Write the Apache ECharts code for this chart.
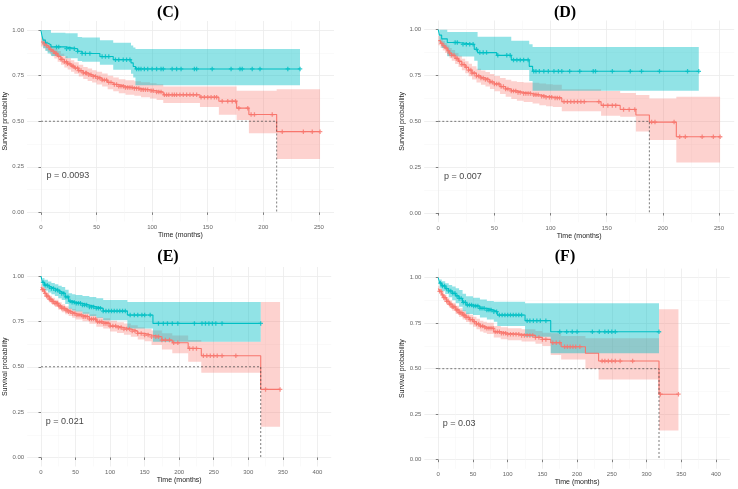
<!DOCTYPE html>
<html><head><meta charset="utf-8">
<script src="https://cdn.jsdelivr.net/npm/echarts@6/dist/echarts.min.js"></script>
<style>html,body{margin:0;padding:0;background:#fff}#c{width:738px;height:489px}</style>
</head><body><div id="c"></div>
<script>
// ---------- tick labels ----------
const yMajor = [0, 0.25, 0.5, 0.75, 1];
const yMinor = [0.125, 0.375, 0.625, 0.875];
const xMajorShort = [0, 50, 100, 150, 200, 250];
const xMinorShort = [25, 75, 125, 175, 225];
const xMajorLong = [0, 50, 100, 150, 200, 250, 300, 350, 400];
const xMinorLong = [25, 75, 125, 175, 225, 275, 325, 375];
const panelTitles = ['(C)', '(D)', '(E)', '(F)'];
const pValues = ['p = 0.0093', 'p = 0.007', 'p = 0.021', 'p = 0.03'];
const medianTimes = [212, 188, 318, 318];

// ---------- Panel C ----------
const cTealTime = [0, 1, 2, 4, 6, 9, 22, 33, 37, 53, 65, 81, 83, 85, 233];
const cTealSurv = [1.0, 0.965, 0.945, 0.93, 0.92, 0.908, 0.898, 0.884, 0.872, 0.855, 0.838, 0.82, 0.80, 0.787, 0.787];
const cTealHigh = [1.0, 1.0, 1.0, 1.0, 1.0, 0.985, 0.983, 0.962, 0.96, 0.945, 0.93, 0.915, 0.905, 0.897, 0.897];
const cTealLow  = [1.0, 0.925, 0.9, 0.885, 0.872, 0.858, 0.846, 0.83, 0.826, 0.81, 0.782, 0.76, 0.74, 0.698, 0.698];
const cTealCens = [14,16,23,26,30,33,37,40,44,55,58,61,67,70,74,77,80,86,88,90,93,96,100,104,108,110,118,122,126,138,140,154,171,179,181,190,197,222,233];
const cRedTime = [0,2,4,6,8,10,12,15,18,21,24,27,30,34,38,42,46,50,55,60,65,70,76,84,90,98,104,110,143,160,176,187,212,251];
const cRedSurv = [.935,.925,.915,.905,.893,.883,.872,.856,.84,.826,.815,.803,.792,.778,.765,.755,.746,.737,.726,.713,.702,.692,.685,.68,.673,.667,.66,.645,.632,.61,.572,.537,.443,.443];
const cRedHigh = [.96,.95,.94,.93,.92,.91,.9,.885,.87,.857,.846,.835,.824,.81,.798,.789,.78,.772,.762,.75,.74,.731,.725,.72,.714,.709,.703,.69,.69,.69,.668,.668,.675,.675];
const cRedLow  = [.91,.9,.89,.88,.866,.856,.844,.827,.81,.795,.784,.771,.76,.746,.732,.721,.712,.702,.69,.676,.664,.653,.645,.64,.632,.625,.617,.6,.578,.535,.507,.434,.293,.293];
const cRedCens = [3,5,7,9,11,13,14,16,18,19,21,23,24,26,28,29,31,33,34,36,38,40,41,43,45,47,49,51,53,55,57,59,61,63,66,68,70,72,74,76,78,80,82,84,86,88,90,92,94,96,99,101,104,106,108,111,113,115,118,120,122,125,128,131,134,137,140,144,147,150,153,156,158,163,168,172,175,178,186,189,192,208,217,236,244,251];

// ---------- Panel D ----------
const dTealTime = [0, 1, 3, 8, 18, 32, 35, 52, 65, 81, 84, 232];
const dTealSurv = [1.0, 0.97, 0.95, 0.93, 0.92, 0.893, 0.875, 0.86, 0.835, 0.80, 0.773, 0.773];
const dTealHigh = [1.0, 1.0, 1.0, 0.987, 0.987, 0.987, 0.962, 0.962, 0.94, 0.92, 0.905, 0.905];
const dTealLow  = [1.0, 0.93, 0.9, 0.855, 0.853, 0.83, 0.78, 0.78, 0.78, 0.72, 0.667, 0.667];
const dTealCens = [15,17,22,25,28,31,34,37,40,43,53,61,64,67,70,73,76,80,85,87,90,94,98,103,107,110,117,126,138,140,155,171,181,197,222,232];
const dRedTime = [0,2,4,6,8,10,12,15,18,21,24,27,30,34,38,42,46,50,55,60,65,70,76,84,90,96,102,110,145,162,176,188,212,251];
const dRedSurv = [.94,.925,.912,.9,.885,.872,.86,.843,.827,.81,.795,.78,.763,.748,.737,.728,.715,.704,.69,.677,.666,.658,.652,.645,.637,.632,.628,.607,.587,.565,.535,.496,.416,.416];
const dRedHigh = [.965,.95,.938,.927,.913,.9,.889,.873,.858,.842,.828,.814,.8,.787,.777,.769,.758,.748,.737,.727,.719,.714,.712,.71,.706,.703,.7,.675,.665,.655,.644,.625,.634,.634];
const dRedLow  = [.915,.9,.886,.873,.857,.844,.831,.813,.796,.778,.762,.746,.728,.712,.7,.69,.676,.664,.649,.634,.622,.613,.606,.598,.588,.582,.578,.555,.53,.525,.444,.398,.275,.275];
const dRedCens = [3,5,7,9,10,12,14,16,17,19,21,23,25,27,29,30,32,34,36,38,40,42,44,46,48,50,52,54,56,58,60,62,65,67,69,71,73,76,78,80,82,85,87,89,92,94,96,99,101,104,106,108,112,115,118,121,124,127,130,143,147,151,155,158,165,170,175,190,193,210,215,220,235,245,251];

// ---------- Panel E ----------
const eTealTime = [0, 2, 5, 10, 15, 20, 25, 30, 35, 40, 45, 50, 60, 70, 80, 90, 100, 125, 162, 318];
const eTealSurv = [1.0, .965, .95, .94, .932, .923, .913, .904, .885, .862, .855, .85, .84, .83, .822, .807, .807, .785, .739, .739];
const eTealHigh = [1.0, .99, .98, .97, .962, .955, .947, .94, .925, .905, .9, .895, .89, .885, .878, .868, .868, .857, .857, .857];
const eTealLow  = [1.0, .94, .92, .91, .9, .89, .878, .868, .846, .82, .81, .805, .792, .78, .77, .757, .757, .711, .638, .638];
const eTealCens = [3,6,9,12,15,18,21,24,27,30,33,36,39,42,45,48,51,54,57,60,63,66,70,73,76,80,83,86,90,94,98,102,106,110,114,118,122,129,135,140,146,150,158,170,177,183,190,198,222,233,238,243,248,253,262,318];
const eRedTime = [0,2,5,8,12,16,20,25,30,35,40,45,50,60,70,80,90,100,110,120,130,140,150,160,175,190,213,232,318,346];
const eRedSurv = [.94,.925,.905,.89,.873,.86,.85,.835,.822,.812,.803,.794,.785,.776,.763,.748,.739,.724,.716,.708,.697,.684,.675,.665,.647,.632,.601,.561,.375,.375];
const eRedHigh = [.955,.94,.922,.908,.892,.88,.87,.856,.844,.834,.826,.818,.809,.801,.789,.775,.767,.753,.746,.739,.729,.718,.71,.7,.685,.672,.647,.638,.857,.857];
const eRedLow  = [.925,.91,.888,.872,.854,.84,.83,.814,.8,.79,.78,.77,.761,.751,.737,.721,.711,.695,.686,.677,.665,.65,.64,.62,.595,.575,.528,.467,.169,.169];
const eRedCens = [2,4,6,8,10,12,14,16,18,20,22,24,26,28,30,32,34,36,38,40,43,46,49,52,55,58,61,64,67,70,73,76,79,82,85,88,91,94,97,100,104,108,112,116,120,124,128,132,136,140,145,150,155,160,166,170,175,180,186,192,198,215,220,225,235,240,245,250,255,262,282,325,346];

// ---------- Panel F ----------
const fTealTime = [0, 2, 5, 10, 15, 20, 25, 30, 35, 40, 50, 60, 70, 80, 85, 125, 162, 318];
const fTealSurv = [1.0, .97, .955, .94, .927, .914, .9, .886, .865, .85, .844, .832, .822, .813, .795, .764, .703, .703];
const fTealHigh = [1.0, .99, .98, .97, .96, .952, .942, .932, .912, .898, .89, .88, .872, .868, .868, .859, .859, .859];
const fTealLow  = [1.0, .94, .925, .91, .892, .876, .86, .84, .815, .8, .795, .782, .77, .758, .734, .676, .585, .585];
const fTealCens = [3,6,9,12,15,18,21,24,27,30,33,36,39,42,45,48,51,54,57,60,63,66,70,73,76,80,84,88,92,96,100,104,108,112,116,120,128,132,137,142,147,155,175,185,193,200,222,232,240,245,250,255,318];
const fRedTime = [0,2,5,8,12,16,20,25,30,35,40,45,50,55,60,65,70,80,90,100,120,140,150,162,177,212,231,318,346];
const fRedSurv = [.94,.925,.905,.89,.87,.855,.84,.823,.808,.795,.782,.77,.758,.746,.734,.728,.722,.703,.695,.689,.683,.672,.661,.643,.621,.585,.542,.36,.36];
const fRedHigh = [.955,.94,.922,.908,.89,.875,.862,.846,.832,.82,.808,.797,.786,.775,.764,.758,.753,.735,.728,.722,.717,.707,.697,.695,.68,.667,.667,.826,.826];
const fRedLow  = [.925,.91,.888,.872,.85,.835,.818,.8,.784,.77,.756,.743,.73,.717,.704,.698,.691,.671,.662,.656,.649,.637,.625,.575,.55,.5,.441,.16,.16];
const fRedCens = [2,4,6,8,10,12,14,16,18,20,22,24,26,28,30,32,34,36,38,40,43,46,49,52,55,58,61,64,67,70,73,76,79,82,85,88,91,94,97,100,104,108,112,116,120,124,128,132,136,140,145,150,155,165,170,175,182,186,190,194,198,204,236,240,245,250,255,262,280,320,346];

// ---------- layout (not data) ----------
const TEAL = '#00BFC4', RED = '#F8766D';
const layout = [
  {grid:{left:27, top:21, width:307, height:200.5}, xMin:-12.55, xMax:263.55, major:xMajorShort, minor:xMinorShort, title:[168,13], pX:5},
  {grid:{left:424.2, top:20.5, width:310, height:201.7}, xMin:-12.55, xMax:263.55, major:xMajorShort, minor:xMinorShort, title:[565,13], pX:5},
  {grid:{left:27.2, top:267, width:304, height:199.5}, xMin:-20, xMax:420, major:xMajorLong, minor:xMinorLong, title:[168,257], pX:7},
  {grid:{left:424.4, top:268.6, width:305.4, height:200.2}, xMin:-20, xMax:420, major:xMajorLong, minor:xMinorLong, title:[565,257], pX:6.5}
];
const groups = [
  {teal:[cTealTime,cTealSurv,cTealLow,cTealHigh,cTealCens], red:[cRedTime,cRedSurv,cRedLow,cRedHigh,cRedCens]},
  {teal:[dTealTime,dTealSurv,dTealLow,dTealHigh,dTealCens], red:[dRedTime,dRedSurv,dRedLow,dRedHigh,dRedCens]},
  {teal:[eTealTime,eTealSurv,eTealLow,eTealHigh,eTealCens], red:[eRedTime,eRedSurv,eRedLow,eRedHigh,eRedCens]},
  {teal:[fTealTime,fTealSurv,fTealLow,fTealHigh,fTealCens], red:[fRedTime,fRedSurv,fRedLow,fRedHigh,fRedCens]}
];

const PLUS = 'path://M1.8,0H3.2V1.8H5V3.2H3.2V5H1.8V3.2H0V1.8H1.8Z';
const FONT = '"Liberation Sans", Arial, sans-serif';
function zip(a, b) { return a.map((x, i) => [x, b[i]]); }
function stepAt(ts, ss, c) { let v = ss[0]; for (let i = 0; i < ts.length; i++) { if (ts[i] <= c) v = ss[i]; } return v; }

// stepped confidence band polygon, built from the data through the axis scales (api.coord)
function bandRender(t, lo, hi, color, op) {
  return function (params, api) {
    if (params.dataIndex !== 0) return null;
    const pts = [];
    for (let i = 0; i < t.length; i++) {
      pts.push(api.coord([t[i], hi[i]]));
      if (i + 1 < t.length) pts.push(api.coord([t[i + 1], hi[i]]));
    }
    for (let i = t.length - 1; i >= 0; i--) {
      if (i + 1 < t.length) pts.push(api.coord([t[i + 1], lo[i]]));
      pts.push(api.coord([t[i], lo[i]]));
    }
    return {type:'polygon', shape:{points:pts}, style:{fill:color, opacity:op}, silent:true};
  };
}

const grids = [], xAxes = [], yAxes = [], bandSeries = [], lineSeries = [], markSeries = [], extraSeries = [], graphics = [];
layout.forEach((L, gi) => {
  grids.push(Object.assign({containLabel:false}, L.grid));
  const tickStyle = {show:true, length:2.5, inside:false, lineStyle:{color:'#333', width:0.6}};
  xAxes.push({type:'value', gridIndex:gi, min:L.xMin, max:L.xMax, position:'bottom',
    axisLine:{show:false}, axisTick:Object.assign({customValues:L.major}, tickStyle),
    axisLabel:{customValues:L.major, fontSize:6, color:'#666', margin:3, fontFamily:FONT},
    splitLine:{show:true, lineStyle:{color:'#EBEBEB', width:0.8}},
    name:'Time (months)', nameLocation:'middle', nameGap:10, nameTextStyle:{fontSize:7, color:'#222', fontFamily:FONT}});
  xAxes.push({type:'value', gridIndex:gi, min:L.xMin, max:L.xMax, position:'bottom',
    axisLine:{show:false}, axisTick:{show:false, customValues:L.minor}, axisLabel:{show:false, customValues:L.minor},
    splitLine:{show:true, lineStyle:{color:'#F4F4F4', width:0.5}}});
  yAxes.push({type:'value', gridIndex:gi, min:-0.05, max:1.05, position:'left',
    axisLine:{show:false}, axisTick:Object.assign({customValues:yMajor}, tickStyle),
    axisLabel:{customValues:yMajor, fontSize:6, color:'#666', margin:3, fontFamily:FONT, formatter:v => v.toFixed(2)},
    splitLine:{show:true, lineStyle:{color:'#EBEBEB', width:0.8}},
    name:'Survival probability', nameLocation:'middle', nameGap:14, nameTextStyle:{fontSize:7, color:'#222', fontFamily:FONT}});
  yAxes.push({type:'value', gridIndex:gi, min:-0.05, max:1.05, position:'left',
    axisLine:{show:false}, axisTick:{show:false, customValues:yMinor}, axisLabel:{show:false, customValues:yMinor},
    splitLine:{show:true, lineStyle:{color:'#F4F4F4', width:0.5}}});
  const ax = {xAxisIndex:gi*2, yAxisIndex:gi*2};
  const G = groups[gi];
  [['red', RED, 0.33], ['teal', TEAL, 0.43]].forEach(([k, col, op]) => {
    const [t, s, lo, hi, cens] = G[k];
    bandSeries.push(Object.assign({type:'custom', silent:true, clip:true,
      data:t.map((x, i) => [x, lo[i], hi[i]]), encode:{x:0, y:[1, 2]},
      renderItem:bandRender(t, lo, hi, col, op)}, ax));
    lineSeries.push(Object.assign({type:'line', step:'end', symbol:'none', silent:true,
      lineStyle:{color:col, width:1.1}, data:zip(t, s)}, ax));
    markSeries.push(Object.assign({type:'scatter', symbol:PLUS, symbolSize:4.5, silent:true,
      itemStyle:{color:col}, data:cens.map(c => [c, stepAt(t, s, c)])}, ax));
  });
  const m = medianTimes[gi];
  extraSeries.push(Object.assign({type:'line', symbol:'none', silent:true,
    lineStyle:{color:'#444', width:0.7, type:[2, 2]}, data:[[0, 0.5], [m, 0.5], [m, 0]]}, ax));
  extraSeries.push(Object.assign({type:'scatter', symbolSize:0, silent:true, data:[[L.pX, 0.2]],
    label:{show:true, position:'right', distance:0, formatter:pValues[gi], fontSize:9, color:'#111', fontFamily:FONT}}, ax));
  graphics.push({type:'text', x:L.title[0], y:L.title[1], style:{text:panelTitles[gi],
    font:'bold 16px "Liberation Serif", "Times New Roman", serif', fill:'#000', align:'center', verticalAlign:'middle'}});
});

const chart = echarts.init(document.getElementById('c'), null, {renderer:'canvas'});
chart.setOption({
  animation:false, backgroundColor:'#fff',
  grid:grids, xAxis:xAxes, yAxis:yAxes,
  series:[].concat(bandSeries, lineSeries, markSeries, extraSeries),
  graphic:graphics
});
</script></body></html>
